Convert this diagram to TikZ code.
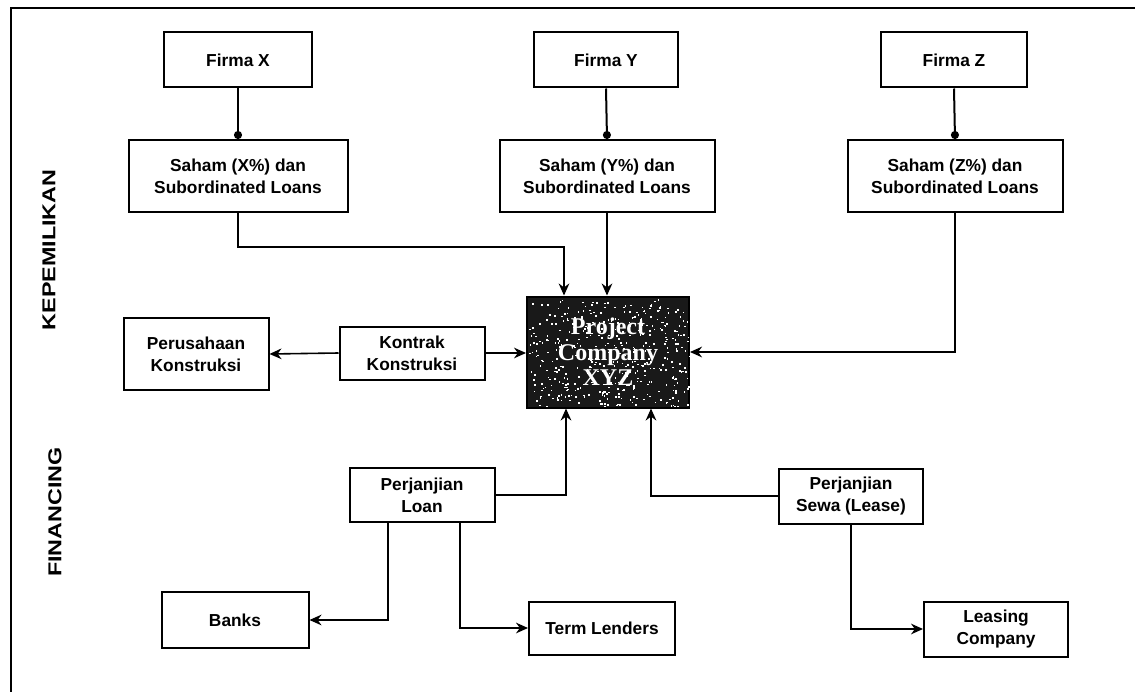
\documentclass[tikz,border=0pt]{standalone}
\usepackage{fontspec}
\setmainfont{Liberation Sans}
\newfontfamily\projfont{Liberation Serif}
\usetikzlibrary{arrows.meta}
\begin{document}
\begin{tikzpicture}[x=0.75pt,y=-0.75pt,
  box/.style={draw=black,line width=1.5pt,fill=white,align=center,inner sep=0pt,
    font=\fontsize{13pt}{16.5pt}\selectfont\bfseries},
  conn/.style={line width=1.2pt,-{Stealth[length=9pt,width=8pt]}},
  dotc/.style={line width=1.5pt,-{Circle[length=6pt]}},
  side/.style={rotate=90,font=\fontsize{14pt}{16pt}\selectfont\bfseries}]
\fill[white] (0,0) rectangle (1135,692);
\useasboundingbox (0,0) rectangle (1135,692);
% frame
\draw[line width=1.8pt] (11,692) -- (11,8) -- (1135,8);
% side labels
\node[side] (kep) at (49,250) {\scalebox{1.25}[1]{KEPEMILIKAN}};
\node[side] (fin) at (55,512) {\scalebox{1.25}[1]{FINANCING}};
% owners
\node[box,minimum width=148*0.75pt,minimum height=55*0.75pt] (FX) at (238,60) {Firma X};
\node[box,minimum width=144*0.75pt,minimum height=55*0.75pt] (FY) at (606,60) {Firma Y};
\node[box,minimum width=146*0.75pt,minimum height=55*0.75pt] (FZ) at (954,60) {Firma Z};
\node[box,minimum width=219*0.75pt,minimum height=72*0.75pt] (SX) at (238,176) {Saham (X\%) dan\\Subordinated Loans};
\node[box,minimum width=215*0.75pt,minimum height=72*0.75pt] (SY) at (607,176) {Saham (Y\%) dan\\Subordinated Loans};
\node[box,minimum width=215*0.75pt,minimum height=72*0.75pt] (SZ) at (955,176) {Saham (Z\%) dan\\Subordinated Loans};
% project company (speckled dark box)
\node[draw=black,line width=1.5pt,fill=black!90,inner sep=0pt,
  minimum width=162*0.75pt,minimum height=111*0.75pt] (PC) at (608,352) {};
\begin{scope}
  \clip (PC.south west) rectangle (PC.north east);
  \pgfmathsetseed{4217}
  \foreach \i in {1,...,420}{
    \pgfmathsetmacro{\rx}{529+160*rnd}
    \pgfmathsetmacro{\ry}{299+107*rnd}
    \fill[white] (\rx,\ry) rectangle ++(1.6,1.6);
  }
\end{scope}
\node[text=white,align=center,inner sep=0pt,
  font=\projfont\fontsize{18pt}{19pt}\selectfont\bfseries] (PCt) at (PC.center) {Project\\Company\\XYZ};
% construction
\node[box,minimum width=145*0.75pt,minimum height=72*0.75pt] (PK) at (196,354) {Perusahaan\\Konstruksi};
\node[box,minimum width=145*0.75pt,minimum height=53*0.75pt] (KK) at (412,353) {Kontrak\\Konstruksi};
% financing
\node[box,minimum width=145*0.75pt,minimum height=54*0.75pt] (PL) at (422,495) {Perjanjian\\Loan};
\node[box,minimum width=144*0.75pt,minimum height=55*0.75pt] (PS) at (851,496) {Perjanjian\\Sewa (Lease)};
\node[box,minimum width=147*0.75pt,minimum height=56*0.75pt] (BK) at (235,620) {Banks};
\node[box,minimum width=146*0.75pt,minimum height=53*0.75pt] (TL) at (602,628) {Term Lenders};
\node[box,minimum width=144*0.75pt,minimum height=55*0.75pt] (LC) at (996,629) {Leasing\\Company};
% helper coordinates
\coordinate (k1) at (564,247);
\coordinate (k3) at (566,0);
\coordinate (k4) at (651,0);
\coordinate (k5) at (388,0);
\coordinate (k6) at (460,0);
% connectors
\draw[dotc] (FX.south) -- (SX.north);
\draw[dotc] (FY.south) -- (SY.north);
\draw[dotc] (FZ.south) -- (SZ.north);
\draw[conn] (SX.south) |- (k1) -- (k1 |- PC.north);
\draw[conn] (SY.south) -- (SY.south |- PC.north);
\draw[conn] (SZ.south) |- (PC.east);
\draw[conn] (KK.west) -- (PK.east);
\draw[conn] (KK.east) -- (KK.east -| PC.west);
\draw[conn] (PL.east) -| (PC.south -| k3);
\draw[conn] (PS.west) -| (PC.south -| k4);
\draw[conn] (PL.south -| k5) |- (BK.east);
\draw[conn] (PL.south -| k6) |- (TL.west);
\draw[conn] (PS.south) |- (LC.west);
\end{tikzpicture}
\end{document}
